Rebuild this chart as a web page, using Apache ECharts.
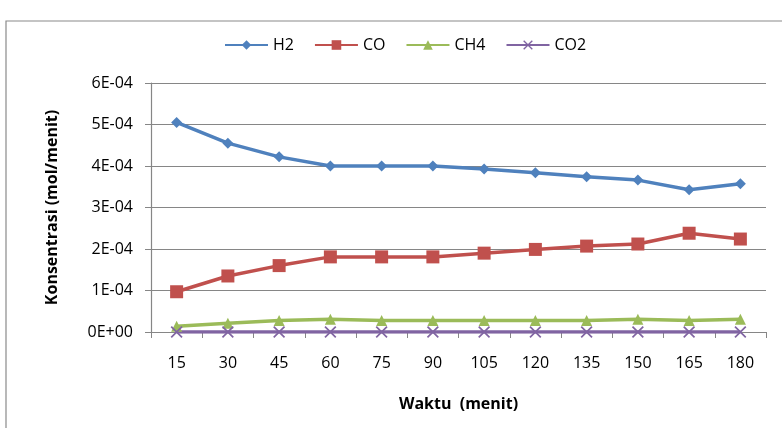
<!DOCTYPE html>
<html><head><meta charset="utf-8">
<script src="https://cdn.jsdelivr.net/npm/echarts@6/dist/echarts.min.js"></script>
<style>html,body{margin:0;padding:0;background:#fff}#c{width:782px;height:428px}</style>
</head><body><div id="c"></div>
<script>
const categories = ['15','30','45','60','75','90','105','120','135','150','165','180'];
const h2  = [5.05e-4,4.55e-4,4.22e-4,4.00e-4,4.00e-4,4.00e-4,3.93e-4,3.84e-4,3.74e-4,3.66e-4,3.43e-4,3.57e-4];
const co  = [0.97e-4,1.35e-4,1.60e-4,1.81e-4,1.81e-4,1.81e-4,1.90e-4,1.99e-4,2.07e-4,2.12e-4,2.38e-4,2.24e-4];
const ch4 = [0.14e-4,0.21e-4,0.28e-4,0.31e-4,0.28e-4,0.28e-4,0.28e-4,0.28e-4,0.28e-4,0.31e-4,0.28e-4,0.31e-4];
const co2 = [0,0,0,0,0,0,0,0,0,0,0,0];
const yTicks = ['0E+00','1E-04','2E-04','3E-04','4E-04','5E-04','6E-04'];
const seriesNames = ['H2','CO','CH4','CO2'];

const xSym = 'path://M0,1L1,0L5,4L9,0L10,1L6,5L10,9L9,10L5,6L1,10L0,9L4,5Z';
const font = 'Open Sans';
const chart = echarts.init(document.getElementById('c'));
function mk(name, data, color, symbol, size) {
  return {name, type:'line', data, symbol, symbolSize:size, showSymbol:true,
    lineStyle:{color, width:3.5}, itemStyle:{color}, animation:false};
}
chart.setOption({
  backgroundColor:'#fff',
  animation:false,
  graphic:[{type:'rect', shape:{x:6,y:21,width:800,height:440}, style:{fill:'none', stroke:'#8a8a8a', lineWidth:1.2}}],
  legend:{top:32, left:219, itemWidth:43, itemHeight:12, itemGap:20,
    textStyle:{fontFamily:font, fontSize:16, color:'#000'},
    data:seriesNames},
  grid:{left:151, right:16, top:83, bottom:96},
  xAxis:{type:'category', data:categories, boundaryGap:true,
    name:'Waktu  (menit)', nameLocation:'middle', nameGap:64,
    nameTextStyle:{fontFamily:font, fontSize:16, fontWeight:'bold', color:'#000'},
    axisLine:{lineStyle:{color:'#868686', width:1.2}},
    axisTick:{show:true, length:6, alignWithLabel:false, lineStyle:{color:'#868686'}},
    axisLabel:{fontFamily:font, fontSize:16, color:'#000', margin:23}},
  yAxis:{type:'value', min:0, max:6e-4, interval:1e-4,
    name:'Konsentrasi (mol/menit)', nameLocation:'middle', nameGap:91,
    nameTextStyle:{fontFamily:font, fontSize:16, fontWeight:'bold', color:'#000'},
    axisLine:{show:true, lineStyle:{color:'#868686', width:1.2}},
    axisTick:{show:true, length:6, lineStyle:{color:'#868686'}},
    splitLine:{lineStyle:{color:'#868686', width:1.2}},
    axisLabel:{fontFamily:font, fontSize:16, color:'#000', margin:18,
      formatter:(v)=>yTicks[Math.round(v/1e-4)]}},
  series:[
    mk('H2', h2, '#4F81BD', 'diamond', 11),
    mk('CO', co, '#C0504D', 'rect', 13),
    mk('CH4', ch4, '#9BBB59', 'triangle', 11),
    mk('CO2', co2, '#8064A2', xSym, 12)
  ]
});
</script></body></html>
